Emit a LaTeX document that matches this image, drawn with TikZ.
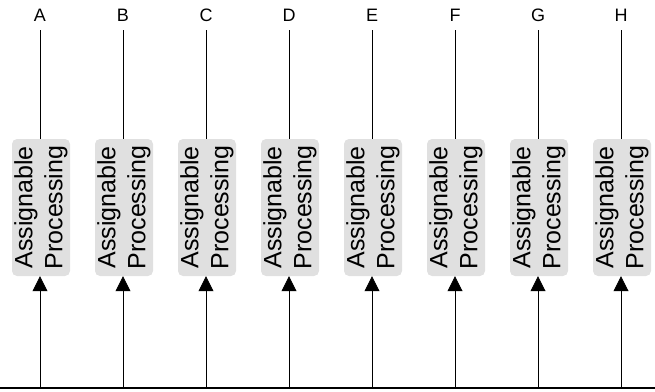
\documentclass[tikz,border=0pt]{standalone}
\usepackage{fontspec}
\setmainfont{Liberation Sans}
\usetikzlibrary{arrows.meta}
\definecolor{boxgray}{HTML}{E0E0E0}
\tikzset{
  procbox/.style={fill=boxgray, rounded corners=5pt, minimum width=137pt, minimum height=58pt,
    inner sep=0pt, rotate=90, align=center, font=\fontsize{25}{30}\selectfont},
  toplabel/.style={font=\fontsize{18}{20}\selectfont, inner sep=0pt},
  wire/.style={line width=0.8pt, black},
  upwire/.style={line width=0.8pt, black, -{Triangle[width=15pt,length=15pt]}},
  bus/.style={line width=2.6pt, black}
}
\begin{document}
\begin{tikzpicture}[x=1pt,y=-1pt]
\useasboundingbox (0,0) rectangle (655,391);
\coordinate (busL) at (0,388);
\coordinate (busR) at (655,388);
\foreach \L [count=\i from 0] in {A,B,C,D,E,F,G,H} {
  \pgfmathsetmacro{\xx}{40+83*\i}
  \node[toplabel] (lab\L) at (\xx,15) {\L};
  \coordinate (top\L) at (\xx,30);
  \node[procbox] (box\L) at (\xx+1,207.5) {Assignable\\Processing};
  \coordinate (bus\L) at (\xx,388);
  \draw[wire] (top\L) -- (top\L |- box\L.east);
  \draw[upwire] (bus\L) -- (bus\L |- box\L.west);
}
\draw[bus] (busL) -- (busR);
\end{tikzpicture}
\end{document}
